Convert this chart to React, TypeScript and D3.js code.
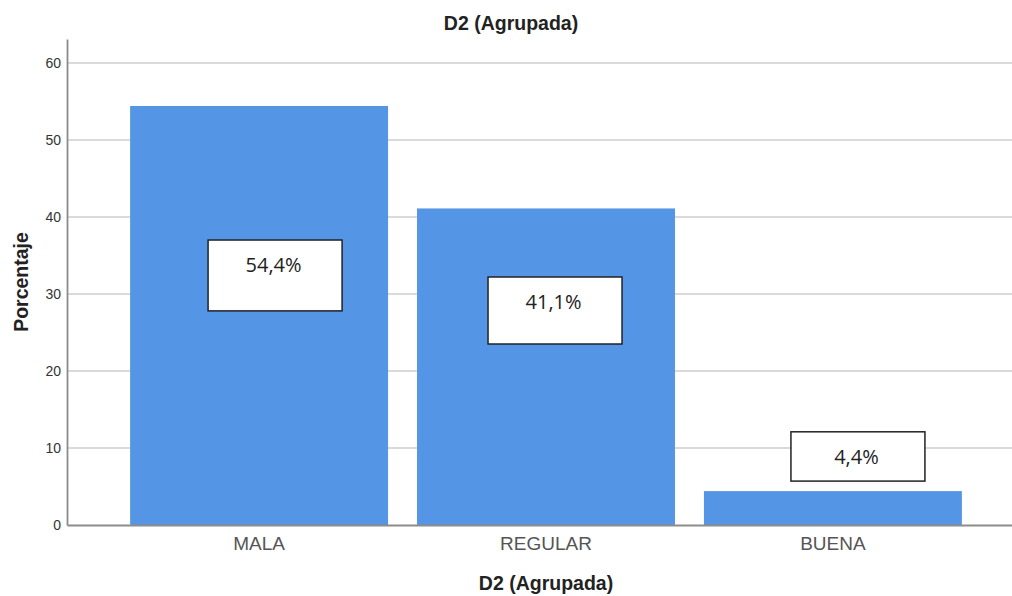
import React, { useEffect, useRef } from "react";
import * as d3 from "d3";

const categories = ["MALA", "REGULAR", "BUENA"];
const percents = [54.4, 41.1, 4.4];
const labels = ["54,4%", "41,1%", "4,4%"];
const yTicks = [0, 10, 20, 30, 40, 50, 60];
// label boxes: vertical extent in percent units, horizontal centre as fraction of the bar
const boxTop = [37.0, 32.2, 12.1];
const boxBottom = [27.8, 23.5, 5.7];
const boxAt = [0.562, 0.535, 0.597];

export default function App() {
  const ref = useRef<SVGSVGElement | null>(null);

  useEffect(() => {
    const width = 1012;
    const height = 596;
    const margin = { top: 39, right: -13, bottom: 71, left: 67 };
    const w = width - margin.left - margin.right;
    const h = height - margin.top - margin.bottom;

    const svg = d3.select(ref.current);
    svg.selectAll("*").remove();
    svg.attr("viewBox", `0 0 ${width} ${height}`);

    const g = svg.append("g").attr("transform", `translate(${margin.left},${margin.top})`);

    const x = d3.scaleBand().domain(categories).range([0, w]).paddingInner(0.101).paddingOuter(0.22);
    const y = d3.scaleLinear().domain([0, 63.1]).range([h, 0]);

    // gridlines
    g.selectAll("line.grid").data(yTicks.filter(t => t > 0)).enter().append("line")
      .attr("x1", 0).attr("x2", w).attr("y1", d => y(d)).attr("y2", d => y(d))
      .attr("stroke", "#dadada").attr("stroke-width", 2);

    // bars
    g.selectAll("rect.bar").data(percents).enter().append("rect")
      .attr("x", (d, i) => x(categories[i]) as number)
      .attr("y", d => y(d))
      .attr("width", x.bandwidth())
      .attr("height", d => h - y(d))
      .attr("fill", "#5595e5");

    // y axis
    const yAxis = g.append("g").call(d3.axisLeft(y).tickValues(yTicks).tickSize(0).tickPadding(6).tickFormat(d3.format("d")));
    yAxis.select(".domain").attr("stroke", "#8c8c8c").attr("stroke-width", 1.8);
    yAxis.selectAll("text").attr("font-family", "Liberation Sans, Arial, sans-serif").attr("font-size", 14).attr("fill", "#333");

    // x axis
    const xAxis = g.append("g").attr("transform", `translate(0,${h})`).call(d3.axisBottom(x).tickSize(0).tickPadding(12));
    xAxis.select(".domain").attr("stroke", "#8c8c8c").attr("stroke-width", 1.8);
    xAxis.selectAll("text").attr("font-family", "Liberation Sans, Arial, sans-serif").attr("font-size", 19).attr("fill", "#555");

    // value labels
    const cx = (i: number) => (x(categories[i]) as number) + x.bandwidth() * boxAt[i];
    const lab = g.selectAll("g.lab").data(labels).enter().append("g");
    lab.append("rect")
      .attr("x", (d, i) => cx(i) - 67)
      .attr("y", (d, i) => y(boxTop[i]))
      .attr("width", 134)
      .attr("height", (d, i) => y(boxBottom[i]) - y(boxTop[i]))
      .attr("fill", "#fff").attr("stroke", "#222").attr("stroke-width", 1.5);
    lab.append("text")
      .attr("x", (d, i) => cx(i) - 1.5)
      .attr("y", (d, i) => y(boxTop[i]) + 32)
      .attr("text-anchor", "middle")
      .attr("font-family", "Open Sans, Liberation Sans, sans-serif").attr("font-size", 20).attr("fill", "#222")
      .text(d => d);

    // titles
    const tf = "Liberation Sans, Arial, sans-serif";
    svg.append("text").attr("x", 511).attr("y", 30).attr("text-anchor", "middle")
      .attr("font-family", tf).attr("font-weight", "bold").attr("font-size", 19.5).attr("fill", "#222").text("D2 (Agrupada)");
    svg.append("text").attr("x", margin.left + w / 2).attr("y", 590).attr("text-anchor", "middle")
      .attr("font-family", tf).attr("font-weight", "bold").attr("font-size", 19.5).attr("fill", "#222").text("D2 (Agrupada)");
    svg.append("text").attr("transform", `translate(28,282) rotate(-90)`).attr("text-anchor", "middle")
      .attr("font-family", tf).attr("font-weight", "bold").attr("font-size", 19.5).attr("fill", "#222").text("Porcentaje");
  }, []);

  return (
    <svg ref={ref} width={1012} height={596} style={{ position: "absolute", left: 0, top: 0, background: "#fff" }} />
  );
}
